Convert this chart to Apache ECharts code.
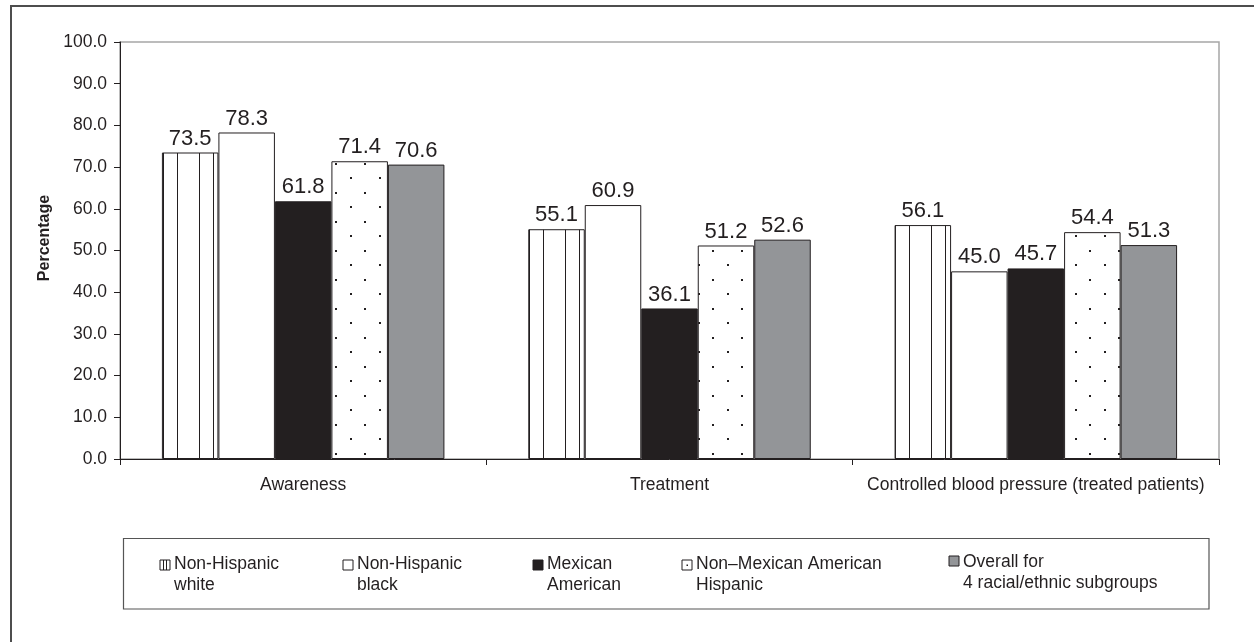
<!DOCTYPE html>
<html>
<head>
<meta charset="utf-8">
<title>Awareness, treatment and control by racial/ethnic subgroup</title>
<script src="https://cdn.jsdelivr.net/npm/echarts@6/dist/echarts.min.js"></script>
<style>
  html, body { margin: 0; padding: 0; background: #fff; }
  #chart { width: 1254px; height: 642px; }
</style>
</head>
<body>
<div id="chart"></div>
<script>
var categories = ['Awareness', 'Treatment', 'Controlled blood pressure (treated patients)'];
var groupNames = [
  'Non-Hispanic\nwhite',
  'Non-Hispanic\nblack',
  'Mexican\nAmerican',
  'Non\u2013Mexican American\nHispanic',
  'Overall for\n4 racial/ethnic subgroups'
];
var nhWhite = [73.5, 55.1, 56.1];
var nhBlack = [78.3, 60.9, 45.0];
var mexicanAmerican = [61.8, 36.1, 45.7];
var otherHispanic = [71.4, 51.2, 54.4];
var overall = [70.6, 52.6, 51.3];

var FONT = '"Liberation Sans", Arial, Helvetica, sans-serif';
var INK = '#231f20';
var GRAY = '#939598';

// grid box in pixels
var gridLeft = 120, gridRight = 35, gridTop = 42, gridBottom = 183;
var catWidth = Math.round((1254 - gridLeft - gridRight) / categories.length);

/**
 * vertical stripes: tile as wide as one category so every bar gets the same lines
 */
function stripeTile() {
  var c = document.createElement('canvas');
  c.width = catWidth;
  c.height = 4;
  var ctx = c.getContext('2d');
  ctx.fillStyle = '#fff';
  ctx.fillRect(0, 0, c.width, c.height);
  ctx.fillStyle = INK;
  [163, 177, 199, 213].forEach(function (x) {
    ctx.fillRect(x, 0, 1, c.height);
  });
  return c;
}

function dotTile() {
  var c = document.createElement('canvas');
  c.width = 29;
  c.height = 29;
  var ctx = c.getContext('2d');
  ctx.fillStyle = '#fff';
  ctx.fillRect(0, 0, 29, 29);
  ctx.fillStyle = INK;
  ctx.fillRect(2, 3, 2, 2);
  ctx.fillRect(16, 18, 2, 2);
  return c;
}

var fills = [
  {image: stripeTile(), repeat: 'repeat'},
  '#ffffff',
  INK,
  {image: dotTile(), repeat: 'repeat'},
  GRAY
];
var seriesData = [nhWhite, nhBlack, mexicanAmerican, otherHispanic, overall];

var series = seriesData.map(function (values, i) {
  return {
    type: 'bar',
    name: groupNames[i],
    data: values,
    barWidth: 56.5,
    barGap: '0%',
    itemStyle: {color: fills[i], borderColor: INK, borderWidth: 1},
    label: {
      show: true,
      position: 'top',
      distance: 3,
      color: INK,
      fontFamily: FONT,
      fontSize: 22,
      formatter: function (p) { return p.value.toFixed(1); }
    }
  };
});

// legend drawn by hand: icon sits on the first text line
var legendX = [160, 343, 533, 682, 949];
var legendItems = [];
groupNames.forEach(function (name, i) {
  var x = legendX[i];
  var iconTop = i === 4 ? 556 : 560;
  legendItems.push({
    type: 'rect',
    shape: {x: x, y: iconTop, width: 10, height: 10},
    style: {fill: i === 0 || i === 3 ? '#fff' : fills[i], stroke: INK, lineWidth: 1}
  });
  if (i === 0) {
    [3.5, 6.5].forEach(function (dx) {
      legendItems.push({
        type: 'line',
        shape: {x1: x + dx, y1: iconTop, x2: x + dx, y2: iconTop + 10},
        style: {stroke: INK, lineWidth: 1}
      });
    });
  }
  if (i === 3) {
    legendItems.push({
      type: 'rect',
      shape: {x: x + 4.5, y: iconTop + 4.5, width: 1.5, height: 1.5},
      style: {fill: INK}
    });
  }
  legendItems.push({
    type: 'text',
    x: x + 14,
    y: i === 4 ? 552 : 554,
    style: {
      text: name,
      font: '17.5px ' + FONT,
      fill: INK,
      lineHeight: 21,
      verticalAlign: 'top'
    }
  });
});

var chart = echarts.init(document.getElementById('chart'), null, {renderer: 'canvas'});

chart.setOption({
  animation: false,
  backgroundColor: '#fff',
  grid: {
    left: gridLeft,
    right: gridRight,
    top: gridTop,
    bottom: gridBottom,
    show: true,
    borderColor: '#a6a6a6',
    borderWidth: 1.5
  },
  xAxis: {
    type: 'category',
    data: categories,
    axisLine: {lineStyle: {color: INK, width: 1}},
    axisTick: {show: true, length: 6, lineStyle: {color: INK}},
    axisLabel: {interval: 0, color: INK, fontFamily: FONT, fontSize: 17.5, margin: 17}
  },
  yAxis: {
    type: 'value',
    min: 0,
    max: 100,
    interval: 10,
    name: 'Percentage',
    nameLocation: 'middle',
    nameRotate: 90,
    nameGap: 64,
    nameTextStyle: {
      color: INK,
      fontFamily: FONT,
      fontSize: 16,
      fontWeight: 'bold',
      padding: [0, 0, 0, 25]
    },
    axisLine: {show: true, lineStyle: {color: INK, width: 1}},
    axisTick: {show: true, length: 6, lineStyle: {color: INK}},
    splitLine: {show: false},
    axisLabel: {
      color: INK,
      fontFamily: FONT,
      fontSize: 17.5,
      margin: 13,
      formatter: function (v) { return v.toFixed(1); }
    }
  },
  series: series,
  graphic: [
    {
      type: 'rect',
      shape: {x: 11, y: 6, width: 1400, height: 800},
      style: {fill: 'none', stroke: '#4d4d4d', lineWidth: 2},
      silent: true
    },
    {
      type: 'rect',
      shape: {x: 123.5, y: 538.5, width: 1085.5, height: 70.5},
      style: {fill: 'none', stroke: '#555', lineWidth: 1.2},
      silent: true
    },
    {
      type: 'group',
      children: legendItems,
      silent: true
    }
  ]
});
</script>
</body>
</html>
